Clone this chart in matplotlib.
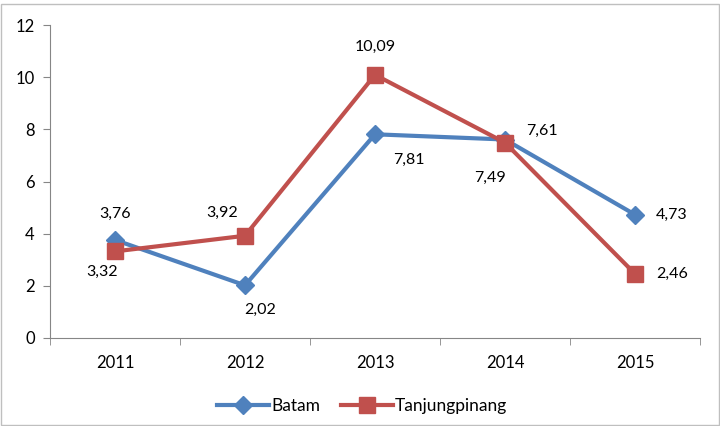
import matplotlib.pyplot as plt
from matplotlib.patches import Rectangle

plt.rcParams["font.family"] = ["Lato", "DejaVu Sans"]

years = ["2011", "2012", "2013", "2014", "2015"]
batam = [3.76, 2.02, 7.81, 7.61, 4.73]
tanjung = [3.32, 3.92, 10.09, 7.49, 2.46]

# label offsets in pixels
batam_off = [(0, 26), (15, -25), (34, -26), (37, 9), (37, 0)]
tanjung_off = [(-13, -20), (-23, 23), (0, 28), (-15, -35), (37, 0)]

fig = plt.figure(figsize=(7.2, 4.26), dpi=100)
ax = fig.add_axes([50 / 720, 1 - 338 / 426, 650 / 720, 313 / 426])

x = list(range(len(years)))
ax.plot(x, batam, color="#4F81BD", linewidth=3, marker="D", markersize=9,
        label="Batam", zorder=3)
ax.plot(x, tanjung, color="#C0504D", linewidth=3, marker="s", markersize=11,
        label="Tanjungpinang", zorder=3)

def fmt(v):
    return f"{v:.2f}".replace(".", ",")

for xi, v, off in zip(x, batam, batam_off):
    ax.annotate(fmt(v), (xi, v), xytext=off, textcoords="offset pixels",
                ha="center", va="center", fontsize=11.5)
for xi, v, off in zip(x, tanjung, tanjung_off):
    ax.annotate(fmt(v), (xi, v), xytext=off, textcoords="offset pixels",
                ha="center", va="center", fontsize=11.5)

ax.set_xlim(-0.5, 4.5)
ax.set_ylim(0, 12)
ax.set_yticks(range(0, 13, 2))
ax.set_xticks(x)
ax.set_xticklabels(years)
ax.set_xticks([i - 0.5 for i in range(6)], minor=True)
ax.tick_params(axis="x", which="major", length=0, pad=12, labelsize=12)
ax.tick_params(axis="x", which="minor", length=5, color="#868686")
ax.tick_params(axis="y", length=5, color="#868686", pad=6, labelsize=12)
for s in ["top", "right"]:
    ax.spines[s].set_visible(False)
for s in ["left", "bottom"]:
    ax.spines[s].set_color("#868686")

fig.legend(loc="center", bbox_to_anchor=(362 / 720, 1 - 406 / 426), ncol=2,
           frameon=False, fontsize=12.5, handlelength=3, columnspacing=1.2,
           handletextpad=0.1)

fig.patches.append(Rectangle((0.002, 0.002), 0.996, 0.989, transform=fig.transFigure,
                             fill=False, edgecolor="#BFBFBF", linewidth=1))

fig.savefig("out.png", dpi=100)
